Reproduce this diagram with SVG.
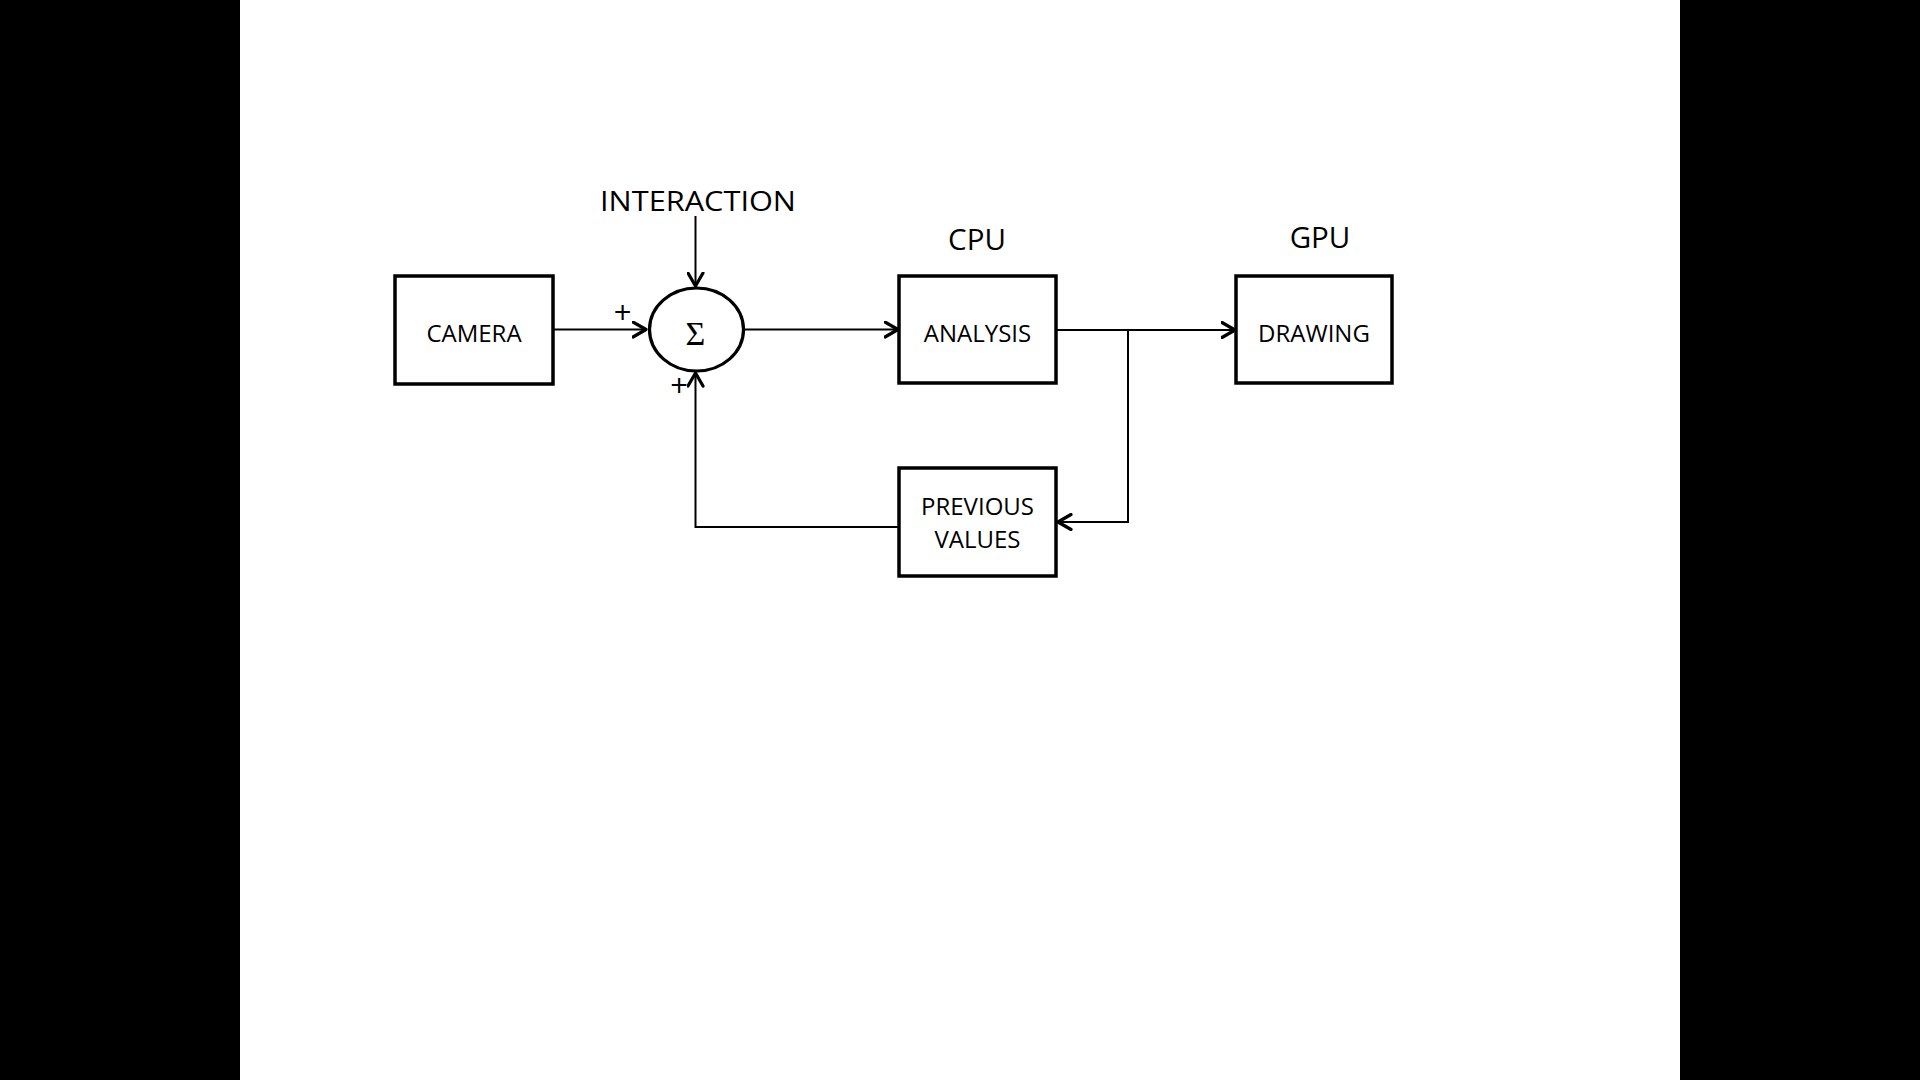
<svg xmlns="http://www.w3.org/2000/svg" width="1920" height="1080" viewBox="0 0 1920 1080">
  <defs>
    <style>
      .box { fill: #ffffff; stroke: #000000; stroke-width: 3.5; }
      .lbl { font-family: "Open Sans", "Liberation Sans", sans-serif; font-size: 24px; fill: #000000; text-anchor: middle; }
      .head { font-family: "Open Sans", "Liberation Sans", sans-serif; font-size: 29.5px; fill: #000000; text-anchor: middle; }
      .sign { font-family: "Open Sans", "Liberation Sans", sans-serif; font-size: 31px; fill: #000000; text-anchor: middle; }
      .conn { fill: none; stroke: #000000; stroke-width: 2; }
    </style>
    <marker id="chev" viewBox="0 0 17 18" refX="14.5" refY="9" markerWidth="17" markerHeight="18" markerUnits="userSpaceOnUse" orient="auto">
      <path d="M1.5,1.5 L14.5,9 L1.5,16.5" fill="none" stroke="#000000" stroke-width="3.2" stroke-linecap="round" stroke-linejoin="round"/>
    </marker>
  </defs>

  <rect x="0" y="0" width="1920" height="1080" fill="#ffffff"/>
  <rect x="0" y="0" width="240" height="1080" fill="#000000"/>
  <rect x="1680" y="0" width="240" height="1080" fill="#000000"/>

  <g id="connectors">
    <path class="conn" d="M553,329.5 H646" marker-end="url(#chev)"/>
    <path class="conn" d="M695.5,216 V286" marker-end="url(#chev)"/>
    <path class="conn" d="M745,329.5 H898" marker-end="url(#chev)"/>
    <path class="conn" d="M1056,330 H1235" marker-end="url(#chev)"/>
    <path class="conn" d="M1128,330 V522 H1058" marker-end="url(#chev)"/>
    <path class="conn" d="M899,527 H695.5 V373" marker-end="url(#chev)"/>
  </g>

  <g id="camera">
    <rect class="box" x="395" y="276" width="158" height="108"/>
    <text class="lbl" x="474" y="341.5">CAMERA</text>
  </g>

  <g id="sum">
    <ellipse cx="696.5" cy="329.5" rx="47" ry="41.5" fill="#ffffff" stroke="#000000" stroke-width="3.2"/>
    <text x="695.5" y="345" font-family="Liberation Serif, serif" font-size="34" text-anchor="middle" fill="#000000">Σ</text>
    <text class="sign" x="622.5" y="323.5">+</text>
    <text class="sign" x="679" y="396.5">+</text>
  </g>

  <g id="interaction">
    <text class="lbl" x="698" y="211" textLength="196" lengthAdjust="spacingAndGlyphs" style="font-size:27.5px">INTERACTION</text>
  </g>

  <g id="analysis">
    <text class="head" x="977" y="249.5">CPU</text>
    <rect class="box" x="899" y="276" width="157" height="107"/>
    <text class="lbl" x="977.5" y="341.5">ANALYSIS</text>
  </g>

  <g id="drawing">
    <text class="head" x="1320" y="247.5">GPU</text>
    <rect class="box" x="1236" y="276" width="156" height="107"/>
    <text class="lbl" x="1314" y="341.5">DRAWING</text>
  </g>

  <g id="previous-values">
    <rect class="box" x="899" y="468" width="157" height="108"/>
    <text class="lbl" x="977.5" y="515">PREVIOUS</text>
    <text class="lbl" x="977.5" y="548">VALUES</text>
  </g>
</svg>
